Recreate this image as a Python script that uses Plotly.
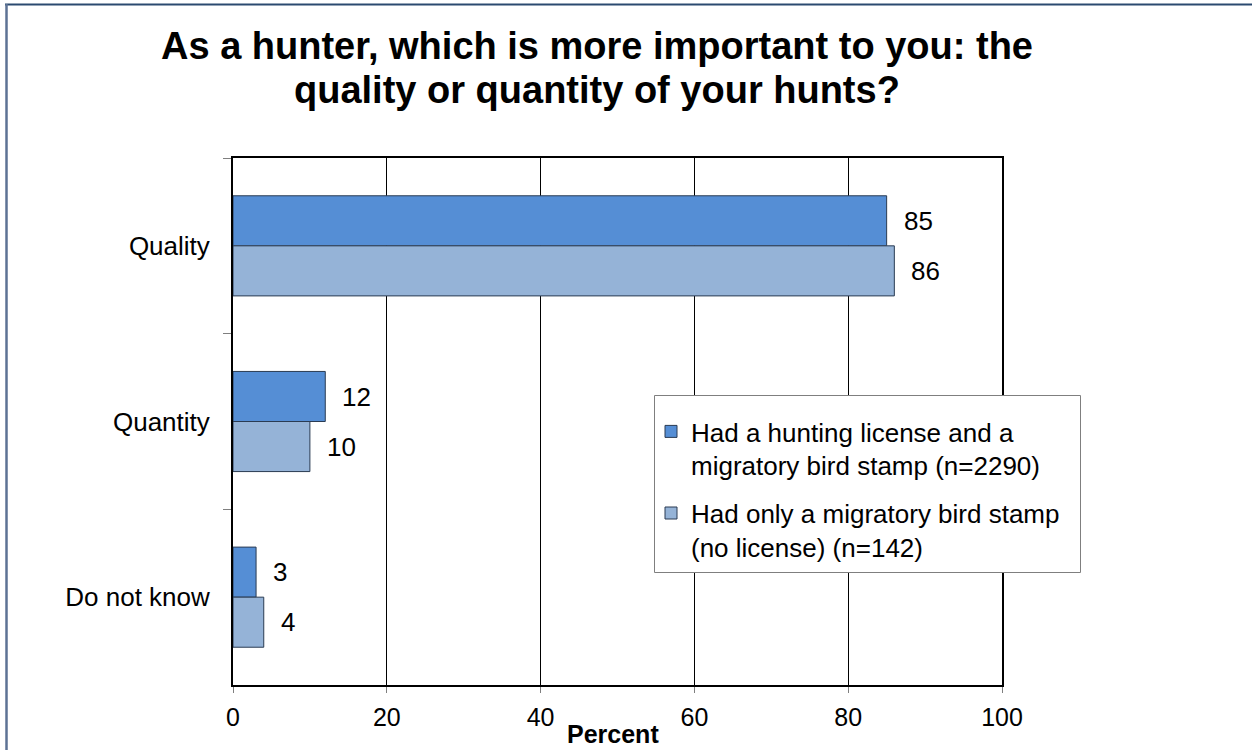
import plotly.graph_objects as go

# Survey responses (percent of respondents)
categories = ["Quality", "Quantity", "Do not know"]
license_and_stamp = [85, 12, 3]
stamp_only = [86, 10, 4]
series_names = [
    "Had a hunting license and a<br>migratory bird stamp (n=2290)",
    "Had only a migratory bird stamp<br>(no license) (n=142)",
]
x_ticks = [0, 20, 40, 60, 80, 100]
title_lines = [
    "As a hunter, which is more important to you: the",
    "quality or quantity of your hunts?",
]

FONT = "Liberation Sans, Arial, sans-serif"
DARK = "#558ED5"
LIGHT = "#95B3D7"
EDGE = "#2a3b52"

# plot-area geometry in pixels
W, H = 1252, 750
L, R, T, B = 233, 250, 158, 65
PW, PH = W - L - R, H - T - B


def px_to_paper_x(px):
    return (px - L) / PW


def px_to_paper_y(py):
    return (H - B - py) / PH


fig = go.Figure()
for i, (vals, color) in enumerate([(license_and_stamp, DARK), (stamp_only, LIGHT)]):
    fig.add_trace(go.Bar(
        y=categories, x=vals, orientation="h", name=series_names[i],
        legendgroup=f"g{i}",
        marker=dict(color=color, line=dict(color=EDGE, width=1)),
        hoverinfo="x+y",
    ))

# value labels beside each bar
annotations = []
for vals, dy in [(license_and_stamp, 25), (stamp_only, -25)]:
    for cat, v in zip(categories, vals):
        annotations.append(dict(
            x=v, y=cat, xref="x", yref="y", text=str(v), showarrow=False,
            xanchor="left", yanchor="middle", xshift=15, yshift=dy,
            font=dict(family=FONT, size=26, color="black"),
        ))

# two-line title
for line, py in zip(title_lines, [46, 90]):
    annotations.append(dict(
        x=px_to_paper_x(597), y=px_to_paper_y(py), xref="paper", yref="paper",
        text=f"<b>{line}</b>", showarrow=False, xanchor="center", yanchor="middle",
        font=dict(family=FONT, size=38, color="black"),
    ))

# axis title
annotations.append(dict(
    x=px_to_paper_x(613), y=px_to_paper_y(734), xref="paper", yref="paper",
    text="<b>Percent</b>", showarrow=False, xanchor="center", yanchor="middle",
    font=dict(family=FONT, size=25, color="black"),
))

shapes = [
    # outer frame edges
    dict(type="line", xref="paper", yref="paper",
         x0=px_to_paper_x(5), x1=px_to_paper_x(W + 5),
         y0=px_to_paper_y(4.5), y1=px_to_paper_y(4.5),
         line=dict(color="#2b4a70", width=2)),
    dict(type="line", xref="paper", yref="paper",
         x0=px_to_paper_x(6.5), x1=px_to_paper_x(6.5),
         y0=px_to_paper_y(4), y1=px_to_paper_y(H + 5),
         line=dict(color="#5d7294", width=2.5)),
    # legend box
    dict(type="rect", xref="paper", yref="paper", layer="above",
         x0=px_to_paper_x(654.5), x1=px_to_paper_x(1080.5),
         y0=px_to_paper_y(395.5), y1=px_to_paper_y(572.5),
         fillcolor="white", line=dict(color="#7f7f7f", width=1)),
]

fig.update_layout(
    width=W, height=H,
    margin=dict(l=L, r=R, t=T, b=B),
    paper_bgcolor="white", plot_bgcolor="white",
    barmode="group", bargap=0.43, bargroupgap=0,
    font=dict(family=FONT, color="black"),
    showlegend=True,
    legend=dict(
        x=px_to_paper_x(651), y=px_to_paper_y(408), xanchor="left", yanchor="top",
        bgcolor="rgba(0,0,0,0)", borderwidth=0,
        font=dict(family=FONT, size=26, color="black"),
        tracegroupgap=11, traceorder="grouped", valign="top",
    ),
    annotations=annotations,
    shapes=shapes,
)

fig.update_xaxes(
    range=[0, 100], tickvals=x_ticks, ticktext=[str(t) for t in x_ticks],
    showgrid=True, gridcolor="black", gridwidth=1,
    showline=True, linecolor="black", linewidth=2, mirror=True,
    ticks="outside", ticklen=6, tickcolor="#7f7f7f", tickwidth=1,
    tickfont=dict(family=FONT, size=25, color="black"),
    ticklabelstandoff=3,
    zeroline=False, fixedrange=True,
)
fig.update_yaxes(
    autorange="reversed", type="category",
    showgrid=False,
    showline=True, linecolor="black", linewidth=2, mirror=True,
    ticks="outside", tickson="boundaries", ticklen=8, tickcolor="#7f7f7f", tickwidth=1,
    tickfont=dict(family=FONT, size=26, color="black"),
    ticklabelstandoff=16,
    fixedrange=True,
)

fig.write_html("out.html")
